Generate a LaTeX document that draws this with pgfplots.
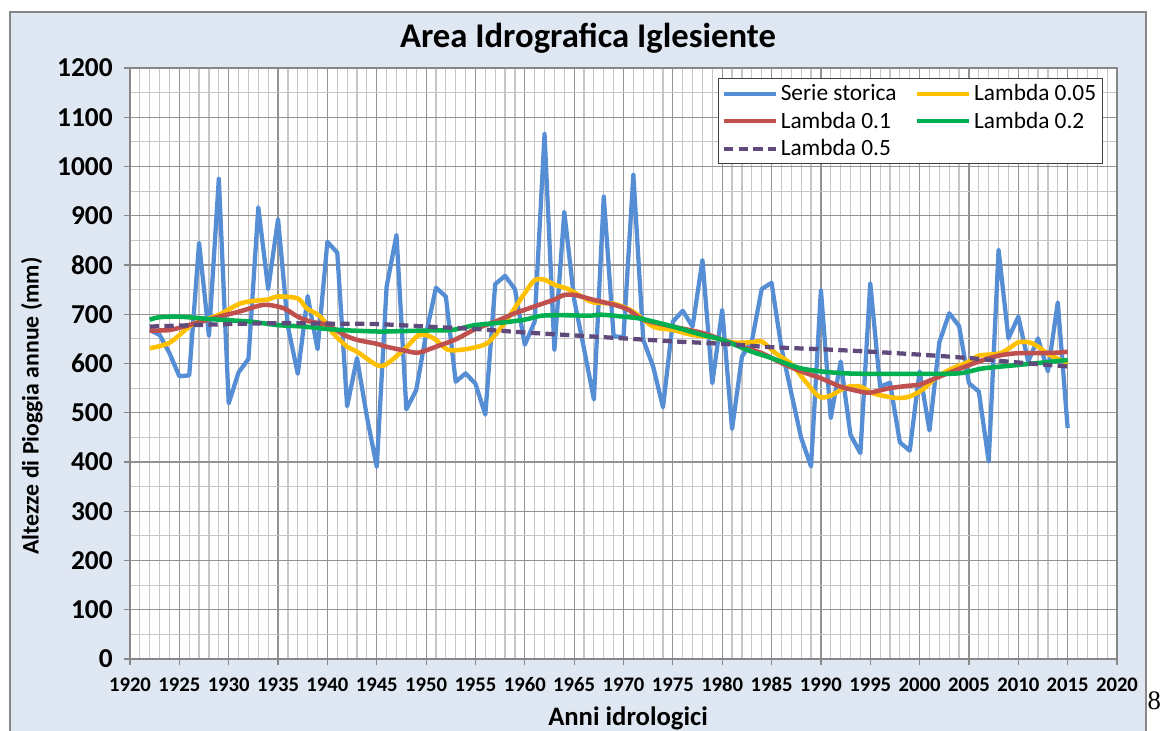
\documentclass[border=0pt]{standalone}
\usepackage{fontspec}
\setmainfont{Carlito}
\newfontfamily\seriffont{Liberation Serif}
\usepackage{pgfplots}
\pgfplotsset{compat=1.18}
\definecolor{bgblue}{HTML}{DFE7F2}
\definecolor{frame}{HTML}{878787}
\definecolor{serie}{HTML}{558ED5}
\definecolor{lyellow}{HTML}{FFC000}
\definecolor{lred}{HTML}{C0504D}
\definecolor{lgreen}{HTML}{00B050}
\definecolor{lpurple}{HTML}{604A7B}
\definecolor{majgrid}{HTML}{939393}
\definecolor{mingrid}{HTML}{C6C6C6}
\begin{document}
\begin{tikzpicture}[x=1pt,y=1pt]
\useasboundingbox (-97.5,-54) rectangle (774.75,494.25);
\fill[white] (-97.5,-54) rectangle (774.75,494.25);
\filldraw[fill=bgblue, draw=frame, line width=1pt] (-90,-60) rectangle (762,485.25);
\begin{axis}[
  at={(0,0)}, anchor=south west,
  width=740.25pt, height=443.25pt, scale only axis,
  axis background/.style={fill=white},
  xmin=1920, xmax=2020, ymin=0, ymax=1200,
  xtick={1920,1925,...,2020}, ytick={0,100,...,1200},
  minor x tick num=4, minor y tick num=1,
  grid=both,
  major grid style={draw=majgrid, line width=0.9pt},
  minor grid style={draw=mingrid, line width=0.9pt},
  axis line style={draw=frame, line width=0.9pt},
  tick align=outside, xtick pos=left, ytick pos=left,
  major tick length=4.5pt, minor tick length=0pt,
  tick style={draw=frame, line width=0.9pt},
  /pgf/number format/assume math mode=true,
  /pgf/number format/1000 sep={},
  x tick label style={font=\bfseries\fontsize{15.5}{15.5}\selectfont, yshift=-6pt},
  y tick label style={font=\bfseries\fontsize{20.5}{20.5}\selectfont, xshift=-5pt},
  legend columns=2,
  legend cell align=left,
  legend style={at={(0.5957,0.983)}, anchor=north west, draw=black!75, line width=0.8pt, fill=white,
    font=\fontsize{17.5}{17.5}\selectfont, inner sep=2.5pt,
    /tikz/every even column/.append style={column sep=12pt},
    row sep=3pt},
  legend image code/.code={\draw[#1, line width=3.2pt] (0pt,0pt) -- (39pt,0pt);},
]
\addplot[serie, line width=3.2pt, line join=round] coordinates {
(1922,668) (1923,658) (1924,621) (1925,574) (1926,576) (1927,845) (1928,656) (1929,975)
(1930,519) (1931,582) (1932,609) (1933,917) (1934,751) (1935,893) (1936,675) (1937,579)
(1938,737) (1939,629) (1940,847) (1941,825) (1942,513) (1943,611) (1944,492) (1945,390)
(1946,756) (1947,861) (1948,507) (1949,546) (1950,660) (1951,754) (1952,736) (1953,563)
(1954,580) (1955,559) (1956,496) (1957,761) (1958,778) (1959,751) (1960,638) (1961,685)
(1962,1066) (1963,628) (1964,908) (1965,730) (1966,630) (1967,527) (1968,939) (1969,655)
(1970,654) (1971,983) (1972,648) (1973,594) (1974,511) (1975,685) (1976,707) (1977,675)
(1978,810) (1979,560) (1980,709) (1981,467) (1982,614) (1983,645) (1984,751) (1985,764)
(1986,632) (1987,540) (1988,449) (1989,391) (1990,749) (1991,489) (1992,604) (1993,455)
(1994,418) (1995,763) (1996,553) (1997,561) (1998,440) (1999,423) (2000,584) (2001,464)
(2002,643) (2003,702) (2004,676) (2005,560) (2006,543) (2007,401) (2008,831) (2009,651)
(2010,695) (2011,604) (2012,651) (2013,584) (2014,724) (2015,469)
};
\addlegendentry{Serie storica}
\addplot[lyellow, line width=3.4pt, smooth, tension=0.5] coordinates {
(1922,631) (1924,642) (1926,675) (1927,685) (1929,699) (1931.2,722) (1933,728) (1934,730)
(1935,736) (1937,732) (1937.9,712) (1939.3,695) (1940.6,661) (1942,634) (1943,624) (1945,597)
(1946,599) (1947.9,631) (1949.2,657) (1950.1,657) (1951,648) (1952.2,628) (1954,629) (1956,639)
(1957,658) (1958.3,692) (1960,743) (1961,769) (1962,770) (1963,760) (1964.4,751) (1966,733)
(1967,724) (1969.1,721) (1971,705) (1973,675) (1975,668) (1977,658) (1979,653) (1981,643)
(1983,643) (1984,645) (1985.4,621) (1987,599) (1988.3,567) (1989.8,533) (1991,535) (1992.6,552)
(1994,553) (1995.2,540) (1996.9,532) (1998,530) (1999,533) (2000.3,547) (2001.6,570) (2003,587)
(2005,604) (2006,616) (2008,620) (2009.1,631) (2010,643) (2011.1,643) (2012.1,633) (2013.1,618)
(2015,601)
};
\addlegendentry{Lambda 0.05}
\addplot[lred, line width=3.4pt, smooth, tension=0.5] coordinates {
(1922,667) (1924,668) (1926,678) (1929,695) (1931,705) (1933,717) (1934,719) (1935.6,712)
(1937,695) (1938.3,685) (1940,678) (1941.7,658) (1943,648) (1945,640) (1946,634) (1947.9,626)
(1949.2,622) (1951,634) (1953,649) (1955,670) (1957,685) (1959,702) (1961,716) (1963,730)
(1964,739) (1965.1,739) (1967,729) (1969.1,719) (1970.5,709) (1972,689) (1975,675) (1978,662)
(1980,648) (1982,634) (1984,621) (1986,601) (1988,584) (1990,570) (1992,553) (1994,543)
(1995,541) (1997,550) (1999,555) (2000,557) (2001.6,570) (2004,589) (2006,604) (2008,616)
(2010,621) (2012,621) (2014,622) (2015,624)
};
\addlegendentry{Lambda 0.1}
\addplot[lgreen, line width=3.4pt, smooth, tension=0.5] coordinates {
(1922,689) (1923,694) (1925,695) (1927,692) (1929,689) (1932.2,685) (1934.9,678) (1937.6,675)
(1940,670) (1942.3,667) (1945,665) (1946,665) (1950.1,667) (1952.6,668) (1955,678) (1957.7,683)
(1960,689) (1961.7,697) (1964.1,698) (1966.5,697) (1967.8,699) (1970.5,694) (1972,690) (1975,675)
(1978,658) (1980,648) (1983,624) (1985,611) (1987.8,591) (1990,584) (1992.5,580) (1995,579)
(2000,579) (2004,580) (2006.4,590) (2010,597) (2015,607)
};
\addlegendentry{Lambda 0.2}
\addplot[lpurple, line width=3.2pt, dash pattern=on 7pt off 4pt, smooth] coordinates {
(1922,675) (1925,677) (1930,680) (1935,682) (1940,681) (1945,680) (1950,675) (1955,670)
(1960,663) (1965,657) (1970,651) (1975,645) (1980,640) (1985,633) (1990,629) (1995,624)
(2000,618) (2005,611) (2010,602) (2015,594)
};
\addlegendentry{Lambda 0.5}
\end{axis}
\node[font=\bfseries\fontsize{26}{26}\selectfont] at (343.5,465.75) {Area Idrografica Iglesiente};
\node[font=\bfseries\fontsize{17.8}{17.8}\selectfont, rotate=90] at (-73.7,189.75) {Altezze di Pioggia annue (mm)};
\node[font=\bfseries\fontsize{20}{20}\selectfont] at (373.5,-44.25) {Anni idrologici};
\node[font=\seriffont\fontsize{20}{20}\selectfont, anchor=east, inner sep=0pt] at (773.5,-31.5) {8};
\end{tikzpicture}
\end{document}
